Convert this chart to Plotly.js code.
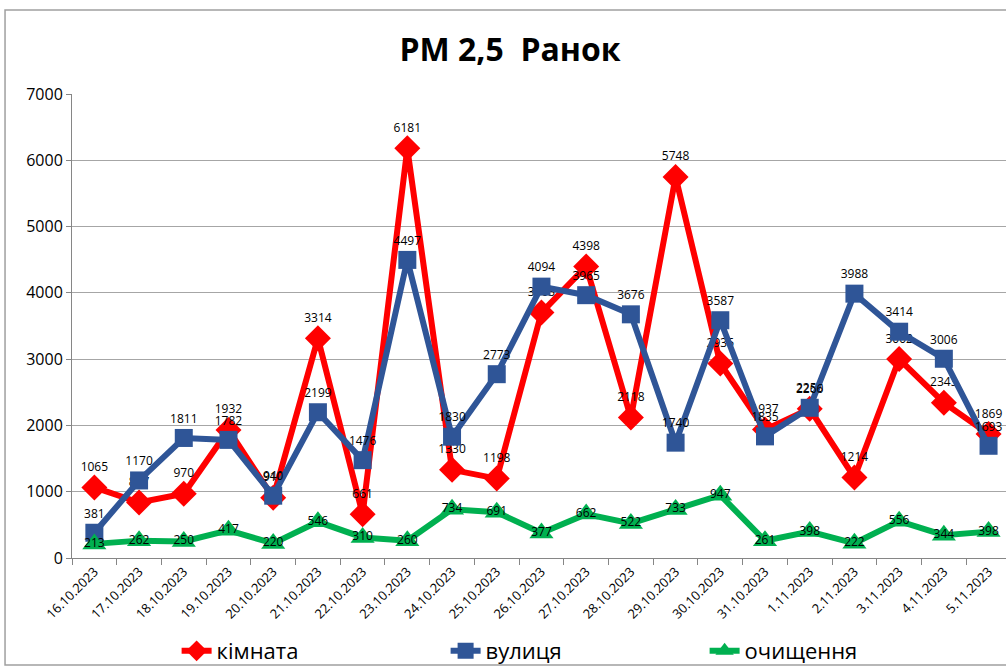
<!DOCTYPE html>
<html>
<head>
<meta charset="utf-8">
<script src="https://cdn.plot.ly/plotly-3.0.1.min.js"></script>
<style>
html,body{margin:0;padding:0;background:#fff;overflow:hidden;}
#chart{width:1006px;height:668px;overflow:hidden;}
</style>
</head>
<body>
<div id="chart"></div>
<script>
const dates = ["16.10.2023","17.10.2023","18.10.2023","19.10.2023","20.10.2023","21.10.2023","22.10.2023","23.10.2023","24.10.2023","25.10.2023","26.10.2023","27.10.2023","28.10.2023","29.10.2023","30.10.2023","31.10.2023","1.11.2023","2.11.2023","3.11.2023","4.11.2023","5.11.2023"];
const kimnata = [1065,837,970,1932,910,3314,661,6181,1330,1198,3703,4398,2118,5748,2935,1937,2250,1214,3002,2343,1869];
const vulytsia = [381,1170,1811,1782,940,2199,1476,4497,1830,2773,4094,3965,3676,1740,3587,1835,2266,3988,3414,3006,1693];
const ochyshchennia = [213,262,250,417,220,546,310,260,734,691,377,662,522,733,947,261,398,222,556,344,398];
const seriesNames = ["кімната","вулиця","очищення"];
const yTicks = [0,1000,2000,3000,4000,5000,6000,7000];

const labelFont = {family:"Open Sans, sans-serif", size:12, color:"#000"};
function tr(y, name, color, symbol, size, tpos, lw){
  return {
    x: dates, y: y, name: name, type:"scatter", mode:"lines+markers+text",
    line:{color:color, width:6},
    marker:{color:color, symbol:symbol, size:size},
    text: y.map(String), textposition: tpos, textfont: labelFont,
    cliponaxis:false, hoverinfo:"skip", legendwidth: lw
  };
}
const data = [
  tr(kimnata, seriesNames[0], "#FF0000", "diamond", 20, "top center", 224),
  tr(vulytsia, seriesNames[1], "#2F5597", "square", 18, "top center", 214),
  tr(ochyshchennia, seriesNames[2], "#00B050", "triangle-up", 21, "middle center", 200)
];
const H = 692;
const plotBottom = 558, plotTop = 94, plotH = plotBottom - plotTop;
const layout = {
  width:1006, height:H,
  margin:{l:72, r:0, t:plotTop, b:H - plotBottom},
  paper_bgcolor:"#fff", plot_bgcolor:"#fff",
  title:{text:"PM 2,5\u00a0\u00a0Ранок", x:0.507, xref:"container", xanchor:"center", y:1 - 50/H, yref:"container", yanchor:"middle",
         font:{family:"Open Sans, sans-serif", size:32, color:"#000", weight:"bold"}},
  xaxis:{type:"category", range:[-0.5, 20.39], tickangle:-45, tickson:"boundaries", ticks:"outside", ticklen:6, tickcolor:"#868686",
         showline:true, linecolor:"#868686", linewidth:1, showgrid:false, zeroline:false, automargin:false,
         tickfont:{family:"Open Sans, sans-serif", size:13, color:"#000"}, fixedrange:true},
  yaxis:{range:[0,7000], tickvals:yTicks, ticks:"outside", ticklen:5, tickcolor:"#868686",
         showline:true, linecolor:"#868686", linewidth:1, showgrid:true, gridcolor:"#A6A6A6", gridwidth:1, zeroline:false, automargin:false,
         tickfont:{family:"Open Sans, sans-serif", size:16, color:"#000"}, fixedrange:true},
  showlegend:true,
  legend:{orientation:"h", x:0.112, xanchor:"left", y:(plotBottom-651)/plotH, yanchor:"middle", entrywidthmode:"pixels",
          font:{family:"Open Sans, sans-serif", size:22, color:"#000"}, bgcolor:"rgba(0,0,0,0)", itemwidth:30},
  shapes:[{type:"rect", xref:"paper", yref:"paper", x0:-0.0717, x1:1.02, y0:(plotBottom-665)/plotH, y1:(plotBottom-10)/plotH, line:{color:"#A0A0A0", width:1.5}, layer:"below"}]
};
Plotly.newPlot("chart", data, layout, {displayModeBar:false, staticPlot:true});
</script>
</body>
</html>
